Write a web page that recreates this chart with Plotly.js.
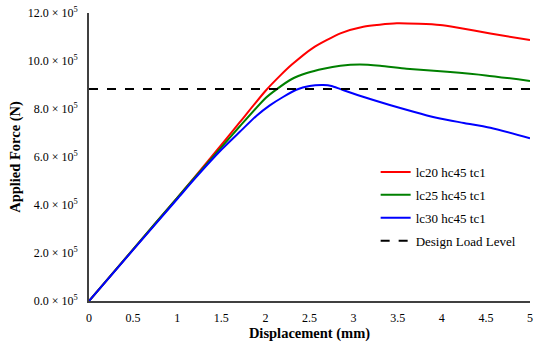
<!DOCTYPE html>
<html>
<head>
<meta charset="utf-8">
<script src="https://cdn.plot.ly/plotly-3.0.1.min.js"></script>
<style>html,body{margin:0;padding:0;background:#fff;}#chart{width:550px;height:347px;}</style>
</head>
<body>
<div id="chart"></div>
<script>
// Values in units of 10^5 N
const xRed   = [0, 0.5, 1.0, 1.2, 1.5, 1.71, 2.0, 2.17, 2.3, 2.54, 2.85, 3.11, 3.49, 3.98, 4.17, 4.55, 5.0];
const yRed   = [0, 2.15, 4.3, 5.17, 6.5, 7.45, 8.75, 9.4, 9.85, 10.55, 11.15, 11.43, 11.57, 11.5, 11.4, 11.15, 10.87];
const xGreen = [0, 0.5, 1.0, 1.2, 1.5, 1.71, 2.0, 2.13, 2.3, 2.47, 2.66, 2.85, 3.07, 3.3, 3.6, 4.06, 4.5, 5.0];
const yGreen = [0, 2.15, 4.3, 5.15, 6.4, 7.28, 8.45, 8.83, 9.25, 9.5, 9.68, 9.8, 9.85, 9.8, 9.68, 9.55, 9.4, 9.17];
const xBlue  = [0, 0.5, 1.0, 1.2, 1.5, 1.71, 1.9, 2.05, 2.2, 2.35, 2.5, 2.66, 2.75, 2.85, 3.07, 3.41, 3.98, 4.25, 4.55, 5.0];
const yBlue  = [0, 2.13, 4.25, 5.1, 6.3, 7.05, 7.72, 8.15, 8.5, 8.8, 8.96, 9.0, 8.96, 8.83, 8.55, 8.17, 7.6, 7.42, 7.22, 6.78];
const xDesign = [0, 5];
const yDesign = [8.83, 8.83];
const seriesNames = ["lc20 hc45 tc1", "lc25 hc45 tc1", "lc30 hc45 tc1", "Design Load Level"];
const yTickVals = [0, 2, 4, 6, 8, 10, 12];
const yTickText = ["0.0 × 10<sup>5</sup>", "2.0 × 10<sup>5</sup>", "4.0 × 10<sup>5</sup>", "6.0 × 10<sup>5</sup>", "8.0 × 10<sup>5</sup>", "10.0 × 10<sup>5</sup>", "12.0 × 10<sup>5</sup>"];
const xTickVals = [0, 0.5, 1, 1.5, 2, 2.5, 3, 3.5, 4, 4.5, 5];
const xTickText = ["0", "0.5", "1", "1.5", "2", "2.5", "3", "3.5", "4", "4.5", "5"];

const serif = "Liberation Serif, DejaVu Serif, serif";
const traces = [
  {x: xRed, y: yRed, name: seriesNames[0], mode: "lines", line: {color: "#ff0000", width: 2, shape: "spline", smoothing: 0.6}, legendgroup: "a"},
  {x: xGreen, y: yGreen, name: seriesNames[1], mode: "lines", line: {color: "#008000", width: 2, shape: "spline", smoothing: 0.6}, legendgroup: "b"},
  {x: xBlue, y: yBlue, name: seriesNames[2], mode: "lines", line: {color: "#0000ff", width: 2, shape: "spline", smoothing: 0.6}, legendgroup: "c"},
  {x: xDesign, y: yDesign, name: seriesNames[3], mode: "lines", line: {color: "#000000", width: 2, dash: "dash"}, legendgroup: "d"}
];
const layout = {
  width: 550, height: 347,
  margin: {l: 89, r: 20, t: 13, b: 46},
  paper_bgcolor: "#fff", plot_bgcolor: "#fff",
  font: {family: serif, size: 12, color: "#000"},
  showlegend: true,
  legend: {x: 0.65, y: 0.5, xanchor: "left", yanchor: "top", font: {family: serif, size: 13, color: "#000"}, tracegroupgap: 3, bgcolor: "rgba(0,0,0,0)"},
  xaxis: {
    range: [0, 5], tickvals: xTickVals, ticktext: xTickText, showgrid: false, zeroline: false,
    showline: true, linecolor: "#404040", linewidth: 2, ticks: "", ticklabelstandoff: 5,
    tickfont: {family: serif, size: 12, color: "#000"},
    title: {text: "<b>Displacement (mm)</b>", font: {family: serif, size: 14.5, color: "#000"}, standoff: 2}
  },
  yaxis: {
    range: [0, 12], tickvals: yTickVals, ticktext: yTickText, showgrid: false, zeroline: false,
    showline: true, linecolor: "#404040", linewidth: 2, ticks: "", ticklabelstandoff: 7,
    tickfont: {family: serif, size: 12, color: "#000"},
    title: {text: "<b>Applied Force (N)</b>", font: {family: serif, size: 14.5, color: "#000"}, standoff: 4}
  }
};
Plotly.newPlot("chart", traces, layout, {displayModeBar: false, staticPlot: true});
</script>
</body>
</html>
